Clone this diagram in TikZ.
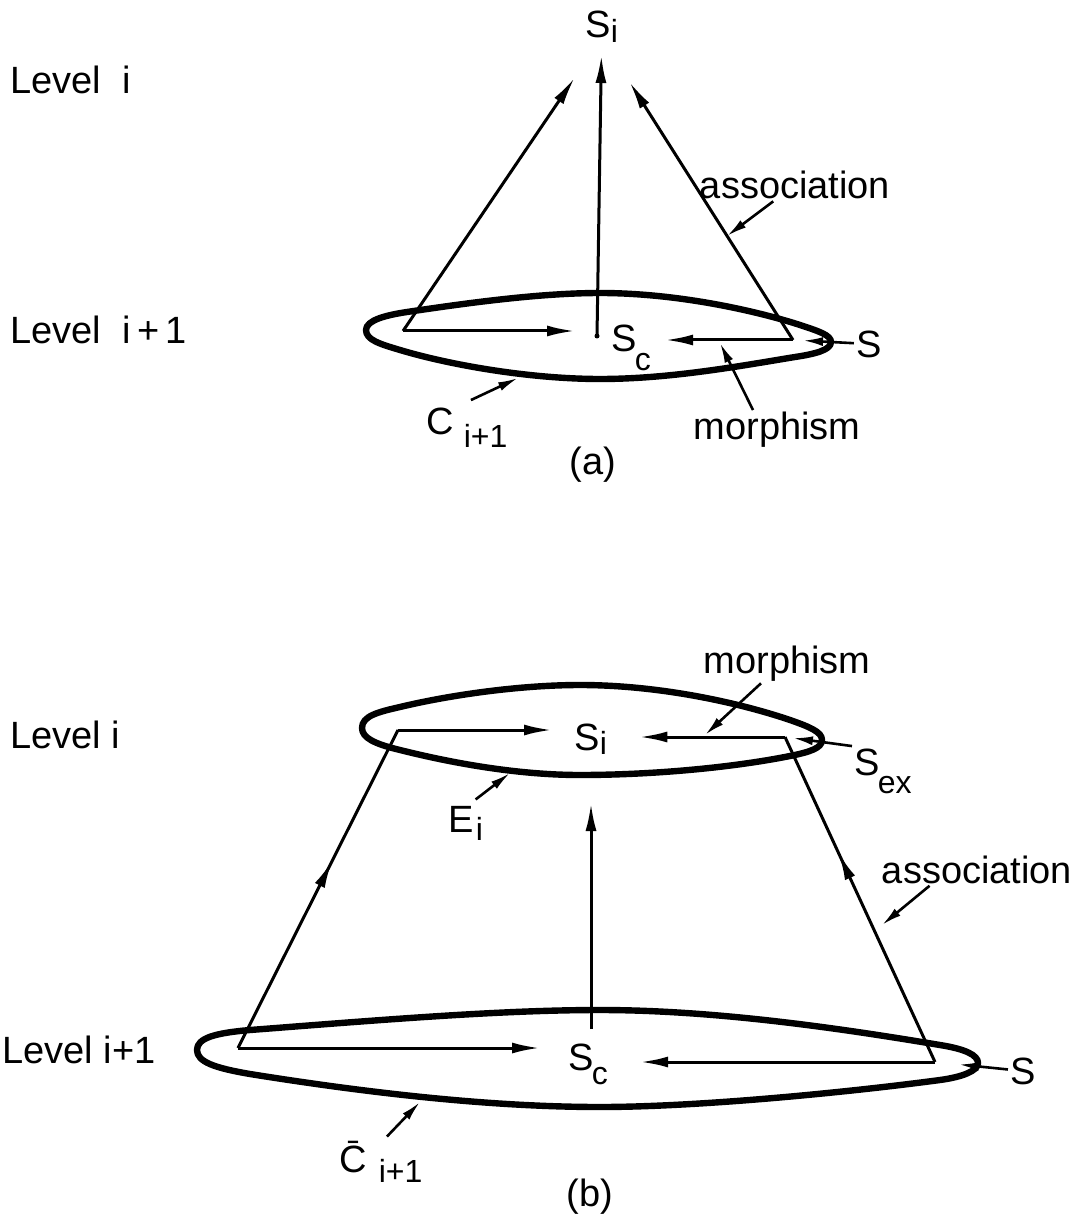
\documentclass[tikz,border=0pt]{standalone}
\usepackage{fontspec}
\setmainfont{Liberation Sans}
\usetikzlibrary{arrows.meta,decorations.markings}

\newcommand{\subtxt}[3][0.5ex]{#2\raisebox{-#1}{\fontsize{16}{16}\selectfont #3}}

\begin{document}
\begin{tikzpicture}[
  x=0.5pt, y=-0.5pt,
  every node/.style={font=\fontsize{19}{22}\selectfont, inner sep=1pt},
  >={Latex[length=14pt,width=5.5pt]},
  conn/.style={line width=1.5pt},
  pointer/.style={line width=1.3pt, -{Latex[length=10pt,width=4.5pt]}},
  blob/.style={line width=3.2pt, line join=round},
  midarrow/.style={postaction={decorate}, decoration={markings, mark=at position #1 with {\arrow{>}}}}
]
\useasboundingbox (0,0) rectangle (1082,1218);

% (a)
\node[anchor=west] (lvl-ai)  at (8,80)   {Level\ \ i};
\node[anchor=west] (lvl-ai1) at (8,330)  {Level\ \ i\,+\,1};
\node[anchor=base west] (si-a) at (583,38)  {\subtxt[0.2ex]{S}{i}};
\node[anchor=base west] (sc-a) at (609,352) {\subtxt[0.9ex]{S\hspace{-1pt}}{c}};
\node (s-a)    at (869,344) {S};
\node (assoc-a) at (795,185) {association};
\node[anchor=base] (morph-a) at (777,440) {morphism};
\node[anchor=base west] (c-a) at (424,435) {\subtxt[0.6ex]{C\hspace{5pt}}{i+1}};
\node (lab-a)  at (593,465) {(a)};

\coordinate (a-l) at (403,331);
\coordinate (a-r) at (793,340);
\coordinate (a-c) at (597,336);
\coordinate (ar-pt) at (727,236);
\coordinate (ma-pt) at (720,343);
\coordinate (ca-pt) at (518,378);

\draw[blob] (366,330) .. controls (366,320) and (387,315) .. (407,312)
  .. controls (467,303) and (540,293) .. (600,293)
  .. controls (680,293) and (760,312) .. (800,325)
  .. controls (818,331) and (831,335) .. (831,342)
  .. controls (831,350) and (815,354) .. (795,357)
  .. controls (740,366) and (670,379) .. (600,379)
  .. controls (530,379) and (450,365) .. (400,350)
  .. controls (380,344) and (366,340) .. (366,330) -- cycle;

\fill (a-c) circle (2.5);
\draw[conn,->,shorten >=24pt] (a-l) -- (si-a.base);
\draw[conn,->,shorten >=8.5pt] (a-c) -- (si-a.base);
\draw[conn,->,shorten >=26pt] (a-r) -- (si-a.base);
\draw[conn,->,shorten >=17pt] (a-l) -- (a-l -| sc-a.west);
\draw[conn,->,shorten >=6pt] (a-r) -- (a-r -| sc-a.east);

\draw[pointer,shorten >=5pt] (s-a) -- (a-r);
\draw[pointer] (assoc-a) -- (ar-pt);
\draw[pointer] ([xshift=-12pt]morph-a.north) -- (ma-pt);
\draw[pointer] ([xshift=2pt,yshift=3pt]c-a.north) -- (ca-pt);

% (b)
\node[anchor=west] (lvl-bi)  at (8,735)  {Level\ i};
\node[anchor=west] (lvl-bi1) at (0,1050) {Level i+1};
\node[anchor=base west] (si-b)  at (572,750)  {\subtxt[0.2ex]{S}{i}};
\node[anchor=base west] (sc-b)  at (566,1070) {\subtxt[0.7ex]{S\hspace{-1pt}}{c}};
\node[anchor=base west] (sex-b) at (852,775)  {\subtxt[0.9ex]{S\hspace{-1pt}}{ex}};
\node (s-b)     at (1023,1071) {S};
\node[anchor=base] (morph-b) at (787,673)  {morphism};
\node[anchor=base] (assoc-b) at (977,883)  {association};
\node[anchor=base west] (e-b) at (446,832) {\subtxt[0.4ex]{E\hspace{1pt}}{i}};
\node[anchor=base west] (c-b) at (337,1172) {\subtxt[0.5ex]{\=C\hspace{6pt}}{i+1}};
\node (lab-b)   at (590,1197) {(b)};

\coordinate (b-tl) at (398,730);
\coordinate (b-tr) at (785,737);
\coordinate (b-bl) at (238,1048);
\coordinate (b-br) at (935,1062);
\coordinate (b-up) at (591,803);
\coordinate (mb-pt) at (705,735);
\coordinate (eb-pt) at (510,773);
\coordinate (ab-pt) at (882,925);
\coordinate (cb-pt) at (420,1102);

\draw[blob] (362,728) .. controls (362,716) and (378,712) .. (400,707)
  .. controls (450,695) and (520,685) .. (580,685)
  .. controls (660,685) and (740,703) .. (790,720)
  .. controls (810,727) and (822,732) .. (822,740)
  .. controls (822,748) and (810,752) .. (790,756)
  .. controls (730,768) and (650,775) .. (580,775)
  .. controls (510,775) and (440,760) .. (400,750)
  .. controls (375,744) and (362,738) .. (362,728) -- cycle;
\draw[blob] (197,1050) .. controls (197,1038) and (215,1033) .. (250,1030)
  .. controls (380,1020) and (500,1010) .. (600,1010)
  .. controls (720,1010) and (850,1030) .. (940,1045)
  .. controls (965,1049) and (978,1055) .. (978,1063)
  .. controls (978,1071) and (962,1077) .. (940,1080)
  .. controls (850,1092) and (700,1107) .. (600,1107)
  .. controls (480,1107) and (350,1090) .. (250,1074)
  .. controls (215,1068) and (197,1062) .. (197,1050) -- cycle;

\draw[conn,->,shorten >=10pt] (b-tl) -- (b-tl -| si-b.west);
\draw[conn,->,shorten >=15pt] (b-tr) -- (b-tr -| si-b.east);
\draw[conn,->,shorten >=13pt] (b-bl) -- (b-bl -| sc-b.west);
\draw[conn,->,shorten >=15pt] (b-br) -- (b-br -| sc-b.east);
\draw[conn,midarrow=0.59] (b-bl) -- (b-tl);
\draw[conn,midarrow=0.645] (b-br) -- (b-tr);
\draw[conn,->] ([yshift=6pt]sc-b.north -| b-up) -- (b-up);

\draw[pointer,shorten >=4pt] (sex-b.north west) -- (b-tr);
\draw[pointer,shorten >=12pt] (s-b) -- (b-br);
\draw[pointer] ([xshift=-13pt]morph-b.south) -- (mb-pt);
\draw[pointer] ([xshift=25pt]assoc-b.south west) -- (ab-pt);
\draw[pointer] ([xshift=5pt,yshift=2pt]e-b.north) -- (eb-pt);
\draw[pointer] ([xshift=3pt,yshift=1pt]c-b.north) -- (cb-pt);
\end{tikzpicture}
\end{document}
